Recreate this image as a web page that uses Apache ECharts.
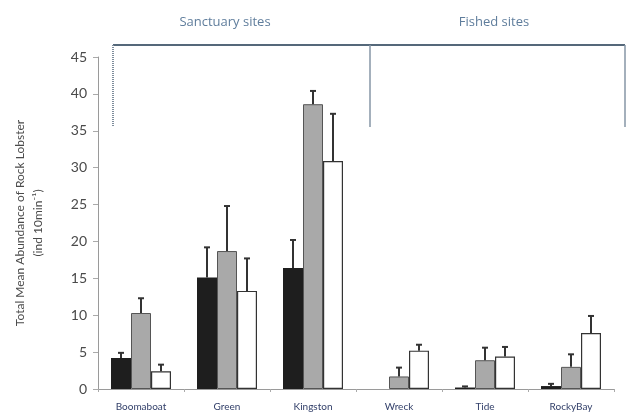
<!DOCTYPE html>
<html>
<head>
<meta charset="utf-8">
<script src="https://cdn.jsdelivr.net/npm/echarts@6/dist/echarts.min.js"></script>
<style>
  html, body { margin: 0; padding: 0; background: #fff; }
  #chart { width: 635px; height: 414px; }
</style>
</head>
<body>
<div id="chart"></div>
<script>
// Sites along the coast, grouped into sanctuary (first three) and fished (last three)
const sites = ['Boomaboat', 'Green', 'Kingston', 'Wreck', 'Tide', 'RockyBay'];

// Mean abundance per survey (ind 10min^-1)
const survey1 = [4.2, 15.1, 16.4, 0, 0.2, 0.4];
const survey2 = [10.3, 18.7, 38.6, 1.7, 3.9, 3.0];
const survey3 = [2.4, 13.3, 30.9, 5.2, 4.4, 7.6];

// Standard errors drawn above each bar
const se1 = [0.7, 4.1, 3.8, 0, 0.15, 0.3];
const se2 = [2.0, 6.1, 1.8, 1.2, 1.7, 1.7];
const se3 = [0.9, 4.4, 6.4, 0.8, 1.3, 2.3];

const yTicks = [0, 5, 10, 15, 20, 25, 30, 35, 40, 45];

const chart = echarts.init(document.getElementById('chart'), null, { renderer: 'canvas' });

const BAR_W = 20;
const FONT = 'Lato, "Open Sans", sans-serif';

// Error bar: vertical whisker from the bar top plus a short cap
function errorRenderer(offsetIndex) {
  return function (params, api) {
    const idx = api.value(0);
    const mean = api.value(1);
    const err = api.value(2);
    const base = api.coord([idx, mean]);
    const top = api.coord([idx, mean + err]);
    const x = base[0] + (offsetIndex - 1) * BAR_W;
    if (err <= 0) return null;
    const style = { stroke: '#333', lineWidth: 2 };
    return {
      type: 'group',
      children: [
        { type: 'line', shape: { x1: x, y1: base[1], x2: x, y2: top[1] }, style: style },
        { type: 'line', shape: { x1: x - 3, y1: top[1], x2: x + 3, y2: top[1] }, style: style }
      ]
    };
  };
}

function errData(means, ses) {
  return means.map((m, i) => [i, m, ses[i]]);
}

const barStyles = [
  { color: '#1e1e1e', borderWidth: 0 },
  { color: '#a9a9a9', borderColor: '#555', borderWidth: 1 },
  { color: '#ffffff', borderColor: '#333', borderWidth: 1.2 }
];

chart.setOption({
  animation: false,
  backgroundColor: '#ffffff',
  grid: { left: 98, right: 21, top: 57, bottom: 25, containLabel: false, outerBoundsMode: 'none' },
  xAxis: {
    type: 'category',
    data: sites,
    axisLine: { show: true, lineStyle: { color: '#9a9a9a', width: 1 } },
    axisTick: { show: true, length: 3, lineStyle: { color: '#aaa' } },
    axisLabel: { color: '#33406a', fontSize: 10, fontFamily: FONT, margin: 13 }
  },
  yAxis: {
    type: 'value',
    min: 0,
    max: 45,
    interval: 5,
    axisLine: { show: true, lineStyle: { color: '#9a9a9a', width: 1 } },
    axisTick: { show: true, length: 5, lineStyle: { color: '#aaa' } },
    splitLine: { show: false },
    axisLabel: {
      color: '#4a4a4a', fontSize: 14, fontFamily: FONT, margin: 11,
      formatter: v => (yTicks.includes(v) ? String(v) : '')
    },
    name: 'Total Mean Abundance of Rock Lobster\n(ind 10min⁻¹)',
    nameLocation: 'middle',
    nameGap: 51,
    nameTextStyle: { color: '#4a4a4a', fontSize: 12, fontFamily: FONT, lineHeight: 18 }
  },
  series: [
    { name: 'survey1', type: 'bar', data: survey1, barWidth: BAR_W, barGap: '0%', itemStyle: barStyles[0] },
    { name: 'survey2', type: 'bar', data: survey2, barWidth: BAR_W, barGap: '0%', itemStyle: barStyles[1] },
    { name: 'survey3', type: 'bar', data: survey3, barWidth: BAR_W, barGap: '0%', itemStyle: barStyles[2] },
    { type: 'custom', renderItem: errorRenderer(0), data: errData(survey1, se1), z: 5 },
    { type: 'custom', renderItem: errorRenderer(1), data: errData(survey2, se2), z: 5 },
    { type: 'custom', renderItem: errorRenderer(2), data: errData(survey3, se3), z: 5 }
  ],
  graphic: [
    // Group labels
    { type: 'text', x: 225, y: 22, style: { text: 'Sanctuary sites', fill: '#5f7d9c', font: '13px "Open Sans", sans-serif', align: 'center', verticalAlign: 'middle' } },
    { type: 'text', x: 494, y: 22, style: { text: 'Fished sites', fill: '#5f7d9c', font: '13px "Open Sans", sans-serif', align: 'center', verticalAlign: 'middle' } },
    // Bracket spanning the two site groups
    { type: 'line', shape: { x1: 113, y1: 45, x2: 625, y2: 45 }, style: { stroke: '#55687a', lineWidth: 2 } },
    { type: 'line', shape: { x1: 113, y1: 45, x2: 113, y2: 127 }, style: { stroke: '#7d8c9b', lineWidth: 2, lineDash: [1, 1] } },
    { type: 'line', shape: { x1: 370, y1: 45, x2: 370, y2: 127 }, style: { stroke: '#8696a6', lineWidth: 1.5 } },
    { type: 'line', shape: { x1: 625, y1: 45, x2: 625, y2: 127 }, style: { stroke: '#8696a6', lineWidth: 1.5 } }
  ]
});
</script>
</body>
</html>
